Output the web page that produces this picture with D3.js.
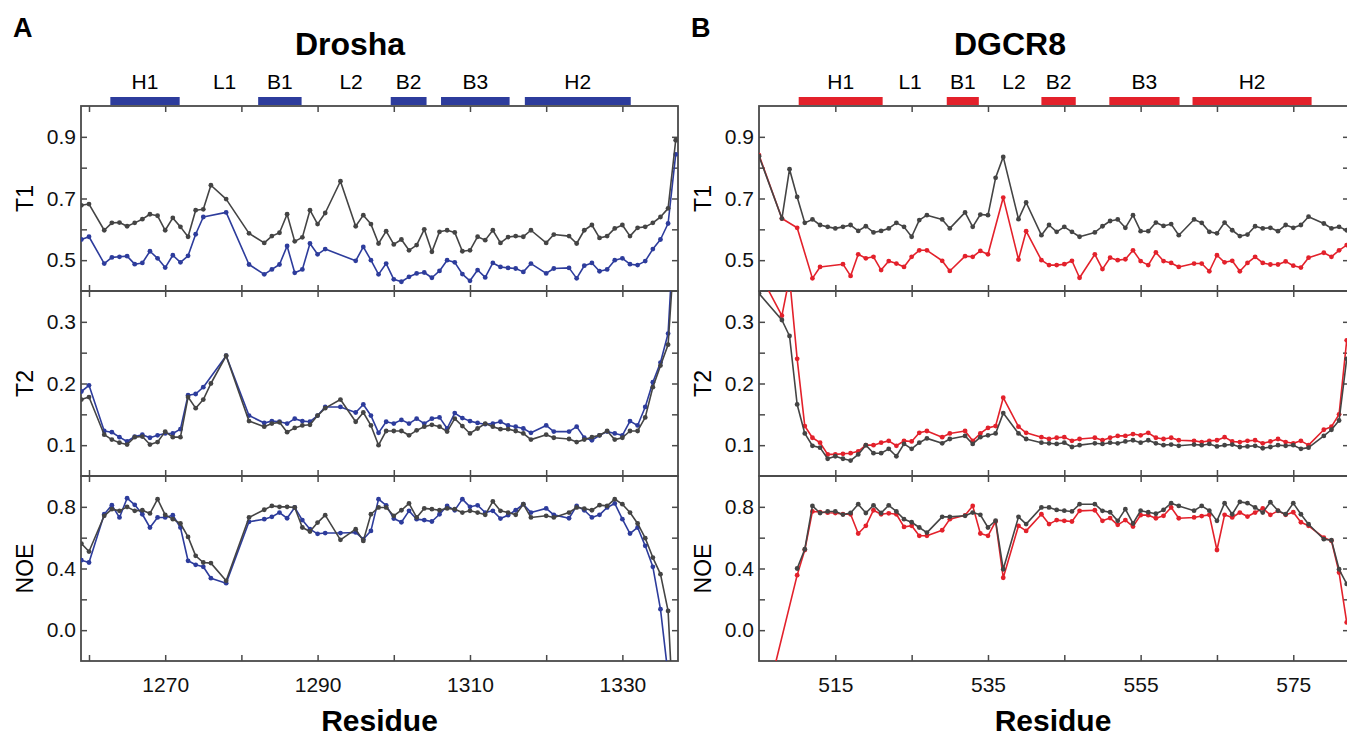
<!DOCTYPE html>
<html>
<head>
<meta charset="utf-8">
<script src="https://cdn.jsdelivr.net/npm/d3@7"></script>
<style>
  body { margin: 0; background: #fff; }
  svg { display: block; font-family: "Liberation Sans", Arial, sans-serif; }
</style>
</head>
<body>
<div class="relax-chart"></div>
<script>
// ---- Drosha (panel A) ----
const droshaRes = [
  1259, 1260, 1262, 1263, 1264, 1265, 1266, 1267, 1268, 1269,
  1270, 1271, 1272, 1273, 1274, 1275, 1276, 1278, 1281, 1283,
  1284, 1285, 1286, 1287, 1288, 1289, 1290, 1291, 1293, 1295,
  1296, 1297, 1298, 1299, 1300, 1301, 1302, 1303, 1304, 1305,
  1306, 1307, 1308, 1309, 1310, 1311, 1312, 1313, 1314, 1315,
  1316, 1317, 1318, 1320, 1321, 1323, 1324, 1325, 1326, 1327,
  1328, 1329, 1330, 1331, 1332, 1333, 1334, 1335, 1336, 1337]
const droshaT1Gray = [
  .678, .682, .597, .621, .622, .610, .621, .633, .649, .644,
  .597, .637, .608, .576, .662, .665, .743, .698, .587, .556,
  .578, .589, .649, .561, .574, .662, .617, .653, .756, .610,
  .646, .617, .554, .594, .551, .567, .532, .549, .600, .527,
  .592, .597, .590, .529, .532, .576, .565, .597, .556, .575,
  .578, .576, .597, .556, .583, .578, .554, .597, .614, .572,
  .578, .603, .614, .578, .605, .608, .621, .640, .668, .889]
const droshaT1Blue = [
  .567, .576, .489, .509, .511, .513, .487, .491, .529, .506,
  .476, .516, .493, .514, .584, .640, null, .655, .486, .454,
  .470, .486, .546, .459, .470, .554, .519, .536, null, .498,
  .543, .500, .454, .489, .438, .430, .446, .457, .460, .443,
  .465, .500, .493, .455, .433, .468, .444, .491, .478, .475,
  .473, .462, .489, .457, .473, .475, .441, .482, .491, .464,
  .470, .500, .506, .487, .484, .497, .536, .567, .619, .843]
const droshaT2Gray = [
  .174, .178, .117, .109, .104, .101, .113, .114, .101, .105,
  .122, .113, .113, .178, .160, .174, .200, .245, .139, .130,
  .135, .137, .121, .128, .132, .133, .148, .160, .174, .138,
  .153, .132, .100, .123, .123, .123, .116, .124, .130, .133,
  .130, .122, .143, .131, .119, .127, .135, .130, .126, .126,
  .123, .119, .109, .117, .112, .110, .105, .109, .113, .116,
  .123, .109, .112, .123, .123, .145, .194, .229, .263, .450]
const droshaT2Blue = [
  .187, .197, .123, .121, .113, .106, .114, .117, .112, .116,
  .119, .119, .126, .181, .183, .194, null, .245, .148, .136,
  .139, .138, .135, .143, .139, .138, .148, .162, .162, .153,
  .166, .148, .120, .138, .135, .141, .135, .143, .135, .143,
  .145, .127, .152, .144, .139, .136, .134, .135, .138, .132,
  .130, .127, .120, .132, .122, .122, .130, .112, .108, .116,
  .122, .119, .116, .139, .132, .162, .202, .234, .281, .500]
const droshaNoeGray = [
  .562, .510, .742, .785, .774, .800, .774, .778, .757, .850,
  .748, .720, .692, .605, .482, .439, .435, .320, .731, .781,
  .806, .800, .800, .796, .666, .640, .698, .746, .586, .655,
  .579, .752, .796, .796, .742, .778, .822, .731, .790, .785,
  .778, .790, .785, .763, .774, .763, .748, .835, .774, .763,
  .748, .817, .731, .742, .731, .763, .796, .789, .778, .811,
  .806, .850, .817, .763, .692, .597, .471, .363, .125, -.86]
const droshaNoeBlue = [
  .454, .439, .752, .811, .731, .856, .813, .752, .666, .731,
  .731, .746, .666, .450, .424, .411, .337, .305, .703, .720,
  .735, .763, .726, .796, .714, .655, .625, .630, .630, .634,
  .590, .644, .850, .810, .724, .700, .774, .720, .714, .705,
  .752, .806, .778, .850, .800, .810, .763, .774, .724, .746,
  .778, .817, .763, .790, .748, .726, .806, .778, .731, .748,
  .796, .822, .720, .627, .666, .547, .411, .136, -.29, -1.0]

// ---- DGCR8 (panel B) ----
const dgcr8Res = [
  505, 508, 509, 510, 511, 512, 513, 514, 515, 516,
  517, 518, 519, 520, 521, 522, 523, 524, 525, 526,
  527, 529, 530, 532, 533, 534, 535, 536, 537, 539,
  540, 542, 543, 544, 545, 546, 547, 549, 550, 551,
  552, 553, 554, 555, 556, 557, 558, 559, 560, 562,
  563, 564, 565, 566, 567, 568, 569, 570, 571, 572,
  573, 574, 575, 576, 577, 579, 580, 581, 582]
const dgcr8T1Gray = [
  .837, .635, .795, .705, .621, .632, .614, .608, .603, .608,
  .614, .595, .610, .590, .595, .603, .621, .608, .576, .630,
  .646, .632, .603, .655, .608, .648, .646, .767, .835, .633,
  .687, .581, .614, .592, .608, .592, .576, .590, .610, .627,
  .632, .605, .646, .594, .594, .622, .611, .617, .581, .632,
  .621, .592, .587, .622, .597, .578, .583, .610, .603, .605,
  .594, .614, .605, .614, .641, .619, .603, .608, .597]
const dgcr8T1Red = [
  .841, .635, null, .605, null, .441, .478, null, null, .487,
  .449, .519, .506, .511, .468, .497, .489, .478, .511, .532,
  .532, .498, .465, .513, .511, .530, .519, null, .703, .502,
  .594, .500, .484, .484, .487, .498, .443, .519, .471, .508,
  .500, .503, .532, .497, .484, .525, .497, .491, .478, .489,
  .489, .464, .516, .493, .498, .464, .491, .511, .491, .486,
  .486, .496, .482, .476, .508, .524, .511, .532, .549]
const dgcr8T2Gray = [
  .346, .303, .277, .166, .119, .099, .096, .078, .082, .078,
  .075, .085, .100, .087, .087, .094, .082, .102, .094, .104,
  .111, .103, .110, .115, .102, .113, .116, .119, .152, .119,
  .110, .104, .103, .102, .104, .097, .100, .103, .102, .104,
  .103, .106, .108, .104, .108, .103, .100, .101, .099, .101,
  .100, .102, .098, .100, .101, .097, .098, .099, .095, .097,
  .100, .099, .100, .094, .096, .115, .125, .140, .240]
const dgcr8T2Red = [
  .380, .310, .372, .240, .131, .112, .104, .085, .085, .086,
  .087, .090, .100, .100, .104, .107, .099, .107, .106, .120,
  .123, .113, .119, .123, .107, .119, .128, .131, .177, .130,
  .120, .113, .110, .112, .113, .107, .110, .112, .108, .112,
  .115, .115, .118, .116, .120, .112, .110, .112, .108, .107,
  .105, .107, .108, .113, .106, .105, .107, .108, .103, .106,
  .110, .105, .103, .107, .100, .125, .130, .150, .270]
const dgcr8NoeGray = [
  null, null, null, .400, .525, .806, .760, .770, .770, .750,
  .760, .817, .760, .810, .760, .810, .770, .720, .700, .666,
  .633, .735, .735, .742, .763, .748, .666, .710, .395, .735,
  .688, .796, .796, .780, .775, .770, .817, .817, .774, .765,
  .709, .785, .692, .775, .765, .755, .780, .824, .806, .775,
  .806, .775, .709, .824, .752, .832, .824, .796, .763, .830,
  .775, .752, .824, .752, .687, .590, .584, .395, .300]
const dgcr8NoeRed = [
  -.65, null, null, .357, .520, .770, .766, .762, .760, .752,
  .752, .627, .677, .778, .752, .758, .752, .670, .677, .612,
  .612, .648, .720, .745, .806, .627, .612, .705, .340, .677,
  .644, .752, .688, .714, .709, .705, .774, .778, .709, .727,
  .683, .714, .672, .746, .746, .726, .742, .796, .726, .731,
  .740, .748, .520, .748, .731, .763, .737, .763, .790, .748,
  .774, .748, .765, .700, .677, .600, .580, .374, .050]

// secondary structure: name, first and last residue (null = loop label only)
const segNames = ["H1", "L1", "B1", "L2", "B2", "B3", "H2"]
const droshaSegStart = [1262.8, 1277.8, 1282.2, 1294.4, 1299.6, 1306.2, 1317.2]
const droshaSegEnd = [1271.9, null, 1287.9, null, 1304.3, 1315.2, 1331.1]
const dgcr8SegStart = [510.2, 524.8, 529.6, 538.4, 542.0, 550.9, 561.8]
const dgcr8SegEnd = [521.2, null, 533.8, null, 546.5, 560.1, 577.4]

// axis ticks (all ticks / labelled ones)
const t1Ticks = [0.5, 0.6, 0.7, 0.8, 0.9], t1Labels = [0.5, 0.7, 0.9]
const t2Ticks = [0.1, 0.15, 0.2, 0.25, 0.3], t2Labels = [0.1, 0.2, 0.3]
const noeTicks = [0.0, 0.2, 0.4, 0.6, 0.8], noeLabels = [0.0, 0.4, 0.8]
const droshaTicks = [1260, 1270, 1280, 1290, 1300, 1310, 1320, 1330]
const droshaLabels = [1270, 1290, 1310, 1330]
const dgcr8Ticks = [515, 525, 535, 545, 555, 565, 575]
const dgcr8Labels = [515, 535, 555, 575]

// Svg initialization
const width = 1347
const height = 739
const svg = d3.select(".relax-chart").append("svg")
    .attr("width", width)
    .attr("height", height)
    .attr("viewBox", [0, 0, width, height])

const frameColor = "#4a4a4a"
const grayColor = "#444444"
const panelTop = 106
const rowH = 185

const rows = [
  {name: "T1", domain: [0.4, 1.0], ticks: t1Ticks, labels: t1Labels, fmt: ".1f"},
  {name: "T2", domain: [0.05, 0.35], ticks: t2Ticks, labels: t2Labels, fmt: ".1f"},
  {name: "NOE", domain: [-0.2, 1.0], ticks: noeTicks, labels: noeLabels, fmt: ".1f"}
]

const panels = [
  {id: "a", letter: "A", title: "Drosha", titleX: 350, left: 81, right: 678,
   xDomain: [1258.95, 1337.3], res: droshaRes, color: "#2d3c9c",
   series: [[droshaT1Gray, droshaT1Blue], [droshaT2Gray, droshaT2Blue], [droshaNoeGray, droshaNoeBlue]],
   segStart: droshaSegStart, segEnd: droshaSegEnd, xTicks: droshaTicks, xLabels: droshaLabels},
  {id: "b", letter: "B", title: "DGCR8", titleX: 1010, left: 759, right: 1349,
   xDomain: [505, 582.3], res: dgcr8Res, color: "#e3212b",
   series: [[dgcr8T1Gray, dgcr8T1Red], [dgcr8T2Gray, dgcr8T2Red], [dgcr8NoeGray, dgcr8NoeRed]],
   segStart: dgcr8SegStart, segEnd: dgcr8SegEnd, xTicks: dgcr8Ticks, xLabels: dgcr8Labels}
]

function drawPanel(p) {
  const x = d3.scaleLinear().domain(p.xDomain).range([p.left, p.right])

  // panel letter + title
  svg.append("text")
      .attr("x", p.left - 68).attr("y", 37)
      .attr("font-size", 27).attr("font-weight", "bold")
      .text(p.letter)
  svg.append("text")
      .attr("x", p.titleX).attr("y", 55)
      .attr("text-anchor", "middle")
      .attr("font-size", 32).attr("font-weight", "bold")
      .text(p.title)

  // secondary structure bars and labels
  const segs = segNames.map((n, i) => ({name: n, start: p.segStart[i], end: p.segEnd[i]}))
  svg.append("g").selectAll("rect")
      .data(segs.filter(d => d.end != null))
      .join("rect")
      .attr("x", d => x(d.start))
      .attr("y", 97)
      .attr("width", d => x(d.end) - x(d.start))
      .attr("height", 8)
      .attr("fill", p.color)
  svg.append("g").selectAll("text")
      .data(segs)
      .join("text")
      .attr("x", d => d.end == null ? x(d.start) : (x(d.start) + x(d.end)) / 2)
      .attr("y", 89)
      .attr("text-anchor", "middle")
      .attr("font-size", 21)
      .text(d => d.name)

  rows.forEach((row, i) => {
    const y0 = panelTop + i * rowH
    const y1 = y0 + rowH
    const y = d3.scaleLinear().domain(row.domain).range([y1, y0])
    const isBottom = i === rows.length - 1

    // clip for the data
    const clipId = `clip-${p.id}-${i}`
    svg.append("clipPath").attr("id", clipId)
      .append("rect")
      .attr("x", p.left).attr("y", y0)
      .attr("width", p.right - p.left).attr("height", rowH)

    // axes, ticks pointing inwards
    const yFmt = d => row.labels.includes(d) ? d3.format(row.fmt)(d) : ""
    const xFmt = d => isBottom && p.xLabels.includes(d) ? d : ""
    const axes = [
      svg.append("g").attr("transform", `translate(${p.left},0)`)
        .call(d3.axisLeft(y).tickValues(row.ticks).tickSizeInner(-6).tickSizeOuter(0).tickPadding(5).tickFormat(yFmt)),
      svg.append("g").attr("transform", `translate(${p.right},0)`)
        .call(d3.axisRight(y).tickValues(row.ticks).tickSizeInner(-6).tickSizeOuter(0).tickFormat("")),
      svg.append("g").attr("transform", `translate(0,${y0})`)
        .call(d3.axisTop(x).tickValues(p.xTicks).tickSizeInner(-6).tickSizeOuter(0).tickFormat("")),
      svg.append("g").attr("transform", `translate(0,${y1})`)
        .call(d3.axisBottom(x).tickValues(p.xTicks).tickSizeInner(-6).tickSizeOuter(0).tickPadding(16).tickFormat(xFmt))
    ]
    axes.forEach(a => {
      a.select(".domain").remove()
      a.selectAll("line").attr("stroke", frameColor).attr("stroke-width", 1.5)
      a.selectAll("text").attr("font-size", 21).attr("fill", "#111")
        .attr("font-family", "'Liberation Sans', Arial, sans-serif")
    })

    // frame
    svg.append("rect")
        .attr("x", p.left).attr("y", y0)
        .attr("width", p.right - p.left).attr("height", rowH)
        .attr("fill", "none")
        .attr("stroke", frameColor)
        .attr("stroke-width", 1.8)

    // row title
    svg.append("text")
        .attr("transform", `translate(${p.left - 48},${(y0 + y1) / 2}) rotate(-90)`)
        .attr("text-anchor", "middle")
        .attr("font-size", 23)
        .text(row.name)

    // data: coloured series first, grey on top
    const g = svg.append("g").attr("clip-path", `url(#${clipId})`)
    const line = d3.line().x(d => x(d.r)).y(d => y(d.v))
    const [grayVals, colVals] = p.series[i]
    ;[[colVals, p.color], [grayVals, grayColor]].forEach(([vals, color]) => {
      const pts = p.res.map((r, k) => ({r: r, v: vals[k]})).filter(d => d.v != null)
      g.append("path")
          .datum(pts)
          .attr("d", line)
          .attr("fill", "none")
          .attr("stroke", color)
          .attr("stroke-width", 1.6)
          .attr("stroke-linejoin", "round")
      g.append("g").selectAll("circle")
          .data(pts)
          .join("circle")
          .attr("cx", d => x(d.r))
          .attr("cy", d => y(d.v))
          .attr("r", 2.4)
          .attr("fill", color)
    })
  })

  // x axis title
  svg.append("text")
      .attr("x", (p.left + Math.min(p.right, width)) / 2)
      .attr("y", 731)
      .attr("text-anchor", "middle")
      .attr("font-size", 30)
      .attr("font-weight", "bold")
      .text("Residue")
}

panels.forEach(drawPanel)
</script>
</body>
</html>
